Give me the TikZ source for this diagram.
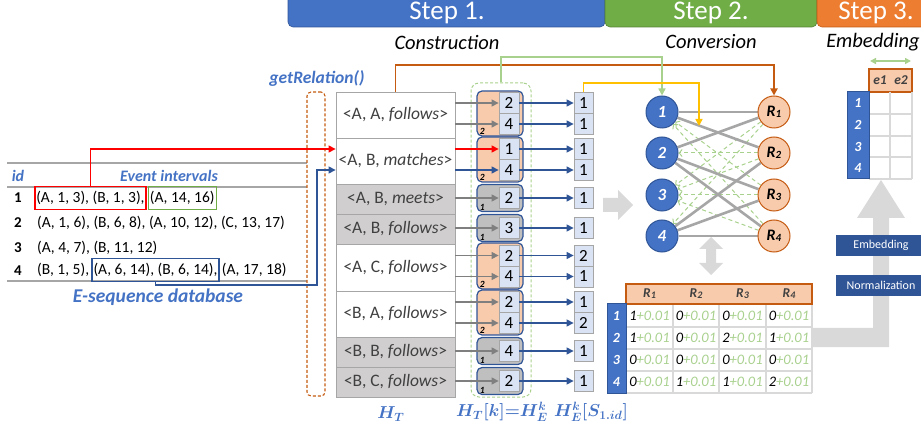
\documentclass[tikz,border=0pt]{standalone}
\usepackage{fontspec}
\setmainfont{Carlito}
\usetikzlibrary{arrows.meta,calc,backgrounds}
\definecolor{sblue}{HTML}{4472C4}
\definecolor{sgreen}{HTML}{70AD47}
\definecolor{sorange}{HTML}{ED7D31}
\definecolor{dblue}{HTML}{2F5597}
\definecolor{peach}{HTML}{F8CBAD}
\definecolor{obord}{HTML}{C55A11}
\definecolor{lgreen}{HTML}{A9D18E}
\definecolor{ygold}{HTML}{FFC000}
\definecolor{cellblue}{HTML}{DAE3F3}
\definecolor{bgray}{HTML}{A6A6A6}
\definecolor{rowgray}{HTML}{D0CECE}
\definecolor{grpgray}{HTML}{BFBFBF}
\definecolor{txtdark}{HTML}{404040}
\definecolor{arrgray}{HTML}{7F7F7F}
\definecolor{biggray}{HTML}{D9D9D9}
\definecolor{gridgray}{HTML}{D9D9D9}
\definecolor{boxred}{HTML}{FF0000}
\definecolor{boxgreen}{HTML}{70AD47}
\newcommand\myfs[1]{\fontsize{#1}{#1}\selectfont}
\newcommand\rsub[2]{\raisebox{-1pt}{\myfs{#1}#2}}
\newcommand\mval[1]{\textit{{\color{black}#1}{\color{lgreen}+0.01}}}
\begin{document}
\begin{tikzpicture}[x=1pt,y=-1pt,
  steptxt/.style={text=white,font=\myfs{27},inner sep=0},
  subt/.style={font=\myfs{20.5}\itshape,inner sep=0},
  hdr/.style={font=\myfs{16}\bfseries\itshape,text=sblue,inner sep=0},
  num/.style={font=\myfs{15}\bfseries,inner sep=0},
  evt/.style={font=\myfs{15.5},inner sep=0,minimum height=23},
  htbox/.style={draw=bgray,line width=0.8,minimum width=119,inner sep=0,text=txtdark,font=\myfs{17.5}},
  grp/.style={draw=dblue,line width=1.2,rounded corners=5,minimum width=46,inner sep=0},
  klab/.style={font=\myfs{9.5}\bfseries\itshape,inner sep=0},
  cellb/.style={draw=bgray,line width=0.8,fill=cellblue,minimum width=20,minimum height=21,inner sep=0,font=\myfs{17}},
  cntb/.style={cellb,minimum width=19},
  arrtip/.style={-{Triangle[length=7pt,width=7pt]}},
  conn/.style={line width=1.2,arrtip},
  lnode/.style={circle,fill=sblue,draw=dblue,line width=1,minimum size=32,inner sep=0,text=white,font=\myfs{17}\bfseries\itshape},
  rnode/.style={circle,fill=peach,draw=obord,line width=1,minimum size=32,inner sep=0,text=black,font=\myfs{16}\bfseries\itshape},
  gedge/.style={draw=bgray,line width=2.6},
  gdash/.style={draw=lgreen,line width=1,dash pattern=on 4pt off 3pt,-{Straight Barb[length=3pt,width=7pt]}},
  lbox/.style={fill=dblue,text=white,minimum width=90,minimum height=21,inner sep=0,font=\myfs{12}},
  etxt/.style={font=\myfs{13.5}\bfseries\itshape,text=txtdark,inner sep=0},
  mtxt/.style={font=\myfs{14.5},inner sep=0},
  wnum/.style={font=\myfs{14}\bfseries\itshape,text=white,inner sep=0},
  blab/.style={text=sblue,font=\myfs{18}\boldmath,inner sep=0}
]
\useasboundingbox (0,0) rectangle (921,430);
\clip (0,0) rectangle (921,430);

% banners
\filldraw[fill=sblue,draw=dblue,line width=0.6,rounded corners=5] (288,-8) rectangle (605,27);
\filldraw[fill=sgreen,draw=sgreen!75!black,line width=0.6,rounded corners=5] (605,-8) rectangle (817,27);
\filldraw[fill=sorange,draw=obord,line width=0.6,rounded corners=5] (817,-8) rectangle (935,27);
\node[steptxt] (st1) at (447,13) {Step 1.};
\node[steptxt] (st2) at (711,13) {Step 2.};
\node[steptxt] (st3) at (876,13) {Step 3.};
\node[subt] (sub1) at (447,42) {Construction};
\node[subt] (sub2) at (711,42) {Conversion};
\node[subt] (sub3) at (873,42) {Embedding};

% table
\draw[bgray,line width=2] (7,163) -- (307,163);
\draw[bgray,line width=1.5] (7,187) -- (307,187);
\draw[bgray,line width=1.5] (7,281) -- (307,281);
\node[hdr] (hid) at (18,176) {id};
\node[hdr] (hev) at (169,176) {Event intervals};
\node[num] (n1) at (18,198) {1};
\node[num] (n2) at (18,223) {2};
\node[num] (n3) at (18,248) {3};
\node[num] (n4) at (18,271) {4};
\node[evt,draw=boxred,line width=1.6,anchor=west,inner xsep=1.5] (redbox) at (34,198) {(A, 1, 3), (B, 1, 3),};
\node[evt,draw=boxgreen,line width=1.1,anchor=west,inner xsep=1.5] (greenbox) at ([xshift=1]redbox.east) {(A, 14, 16)};
\node[evt,anchor=west] (ev2) at (37,223) {(A, 1, 6), (B, 6, 8), (A, 10, 12), (C, 13, 17)};
\node[evt,anchor=west] (ev3) at (37,248) {(A, 4, 7), (B, 11, 12)};
\node[evt,anchor=west] (ev4a) at (37,270) {(B, 1, 5),};
\node[evt,draw=dblue,line width=1.4,anchor=west,inner xsep=1.5] (bluebox) at ([xshift=2]ev4a.east) {(A, 6, 14), (B, 6, 14),};
\node[evt,anchor=west] (ev4c) at ([xshift=2]bluebox.east) {(A, 17, 18)};
\node[font=\myfs{19.5}\bfseries\itshape,text=sblue,inner sep=0] (edb) at (158,297) {E-sequence database};

% getRelation
\node[font=\myfs{17.5}\bfseries\itshape,text=sblue,inner sep=0] (lget) at (317,78) {getRelation()};
\node[draw=obord,dash pattern=on 3pt off 2pt,line width=1.1,rounded corners=4,minimum width=18,minimum height=304,inner sep=0] (getrel) at (316,244) {};

% H_T rows
\foreach \i/\ya/\yb/\f/\lab in {
1/92/138/white/{<A, A, \textit{follows}>},
2/138/184/white/{<A, B, \textit{matches}>},
3/184/214/rowgray/{<A, B, \textit{meets}>},
4/214/244/rowgray/{<A, B, \textit{follows}>},
5/244/291/white/{<A, C, \textit{follows}>},
6/291/337/white/{<B, A, \textit{follows}>},
7/337/367/rowgray/{<B, B, \textit{follows}>},
8/367/397/rowgray/{<B, C, \textit{follows}>}}
  \node[htbox,fill=\f,minimum height=\yb-\ya] (ht\i) at (395.5,{(\ya+\yb)/2}) {\lab};

% green dashed group box
\node[draw=lgreen,dash pattern=on 3pt off 2pt,line width=1,rounded corners=8,minimum width=60,minimum height=314,inner sep=0] (gbox) at (501,240) {};

% two-cell groups
\foreach \i/\ya/\yb/\va/\vb/\na/\nb/\cola/\colb in {
1/92/138/2/4/1/1/arrgray/arrgray,
2/138/184/1/4/1/1/boxred/dblue,
5/244/291/2/4/2/1/arrgray/arrgray,
6/291/337/2/4/1/2/arrgray/arrgray}{
  \node[grp,fill=peach,minimum height=\yb-\ya-1] (g\i) at (500,{(\ya+\yb)/2-1.5}) {};
  \node[klab] (k\i) at ($(g\i.south west)+(6,-5)$) {2};
  \node[cellb] (ca\i) at (509,{(\ya+\yb)/2-12}) {\va};
  \node[cellb] (cb\i) at (509,{(\ya+\yb)/2+9}) {\vb};
  \node[cntb] (na\i) at (583.5,{(\ya+\yb)/2-12}) {\na};
  \node[cntb] (nb\i) at (583.5,{(\ya+\yb)/2+9}) {\nb};
  \draw[conn,draw=\cola] (ht\i.east |- ca\i) -- (ca\i.west);
  \draw[conn,draw=\colb] (ht\i.east |- cb\i) -- (cb\i.west);
  \draw[conn,draw=dblue] (ca\i.east) -- (na\i.west);
  \draw[conn,draw=dblue] (cb\i.east) -- (nb\i.west);
}
% one-cell groups
\foreach \i/\ya/\yb/\va/\na in {3/184/214/2/1,4/214/244/3/1,7/337/367/4/1,8/367/397/2/1}{
  \node[grp,fill=grpgray,minimum height=\yb-\ya-3] (g\i) at (500,{(\ya+\yb)/2-1}) {};
  \node[klab] (k\i) at ($(g\i.south west)+(6,-5)$) {1};
  \node[cellb] (ca\i) at (509,{(\ya+\yb)/2-1}) {\va};
  \node[cntb] (na\i) at (583.5,{(\ya+\yb)/2-1}) {\na};
  \draw[conn,draw=arrgray] (ht\i.east |- ca\i) -- (ca\i.west);
  \draw[conn,draw=dblue] (ca\i.east) -- (na\i.west);
}

% red and blue connectors from table
\draw[conn,draw=boxred] (redbox.north) |- (ht2.west |- ca2);
\coordinate (bturn) at (317,285);
\draw[conn,draw=dblue] (bluebox.south) |- (bturn) |- (ht2.west |- cb2);

% graph nodes
\node[lnode] (L1) at (662,112) {1};
\node[lnode] (L2) at (662,153) {2};
\node[lnode] (L3) at (662,195) {3};
\node[lnode] (L4) at (662,236) {4};
\node[rnode] (R1) at (774,112) {R\rsub{11}{1}};
\node[rnode] (R2) at (774,153) {R\rsub{11}{2}};
\node[rnode] (R3) at (774,195) {R\rsub{11}{3}};
\node[rnode] (R4) at (774,236) {R\rsub{11}{4}};
\begin{pgfonlayer}{background}
\foreach \a/\bb in {1/3,1/4,2/2,3/1,3/2,3/3,3/4,4/1} \draw[gdash] (R\bb) -- (L\a);
\foreach \a/\bb in {1/1,1/2,2/1,2/3,2/4,4/2,4/3,4/4} \draw[gedge] (L\a) -- (R\bb);
\end{pgfonlayer}

% top connectors
\coordinate (otop) at (395,65);
\draw[conn,draw=obord,line width=1.8] (ht1.north) -- (ht1.north |- otop) -| (R1.north);
\coordinate (gtop) at (502,57);
\draw[conn,draw=lgreen,line width=1.5] (gbox.north) -- (gbox.north |- gtop) -| (L1.north);
\coordinate (ytop) at (583,83);
\coordinate (yend) at (699,126);
\draw[conn,draw=ygold,line width=1.5] (na1.north) -- (na1.north |- ytop) -| (yend);

% big gray arrows
\fill[biggray] (603,198) -- (618,198) -- (618,190) -- (633,205) -- (618,220) -- (618,212) -- (603,212) -- cycle;
\fill[biggray] (711,237) -- (723,249) -- (716,249) -- (716,263) -- (723,263) -- (711,275) -- (699,263) -- (706,263) -- (706,249) -- (699,249) -- cycle;
\fill[biggray] (812,328) -- (873,328) -- (873,218) -- (857,218) -- (881,180) -- (905,218) -- (889,218) -- (889,347) -- (812,347) -- cycle;
\node[lbox] (lemb) at (881,245.5) {Embedding};
\node[lbox] (lnorm) at (881,285.5) {Normalization};

% matrix
\fill[white] (626,304) rectangle (812,393);
\draw[gridgray,line width=1.3] (626,304) -- (626,393);
\foreach \x in {673,719,766,812} \draw[gridgray,line width=1.3] (\x,304) -- (\x,393);
\foreach \y in {327,349,371,393} \draw[gridgray,line width=1.3] (626,\y) -- (812,\y);
\filldraw[fill=peach,draw=obord,line width=1.2] (626,284) rectangle (812,304);
\filldraw[fill=sblue,draw=dblue,line width=1] (607,304) rectangle (626,393);
\foreach \x/\k in {649.5/1,696/2,742.5/3,789/4}
  \node[etxt] (mh\k) at (\x,294) {R\rsub{10}{\k}};
\foreach \y/\k in {315.5/1,338/2,360/3,382/4}
  \node[wnum] (mr\k) at (616.5,\y) {\k};
\foreach \r/\y in {1/315.5,2/338,3/360,4/382}{
  \foreach \c/\x in {1/649.5,2/696,3/742.5,4/789}{
    \pgfmathsetmacro\v{{{1,0,0,0},{1,0,2,1},{0,0,0,0},{0,1,1,2}}[\r-1][\c-1]}
    \pgfmathtruncatemacro\vv{\v}
    \node[mtxt] (m\r\c) at (\x,\y) {\mval{\vv}};
  }
}

% embedding table
\filldraw[fill=peach,draw=obord,line width=1.2] (869,69) rectangle (912,92);
\node[etxt] (e1) at (880,80.5) {e1};
\node[etxt] (e2) at (901,80.5) {e2};
\coordinate (ea) at (870,61);
\coordinate (eb) at (911,61);
\draw[lgreen,line width=1.5,{Triangle[length=6pt,width=6pt]}-{Triangle[length=6pt,width=6pt]}] (ea) -- (eb);
\foreach \x in {890,912} \draw[gridgray,line width=1.3] (\x,92) -- (\x,179);
\foreach \y in {114,136,157,179} \draw[gridgray,line width=1.3] (869,\y) -- (912,\y);
\filldraw[fill=sblue,draw=dblue,line width=1] (847,92) rectangle (869,179);
\foreach \y/\k in {103/1,125/2,147/3,168/4}
  \node[wnum] (er\k) at (858,\y) {\k};

% bottom labels
\node[blab] (bl1) at (391,414) {$H_T$};
\node[blab] (bl2) at (502,412) {$H_T[k]{=}H_E^k$};
\node[blab] (bl3) at (591,412) {$H_E^k[S_{1.id}]$};
\end{tikzpicture}
\end{document}
